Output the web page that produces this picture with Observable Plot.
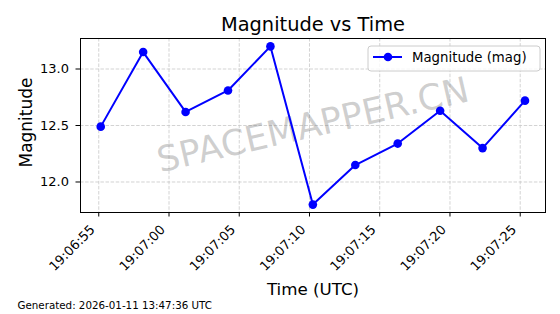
<!DOCTYPE html>
<html>
<head>
<meta charset="utf-8">
<script src="https://cdn.jsdelivr.net/npm/d3@7"></script>
<script src="https://cdn.jsdelivr.net/npm/@observablehq/plot@0.6"></script>
<style>
  html, body { margin: 0; padding: 0; background: #fff; }
</style>
</head>
<body>
<div id="chart"></div>
<script>
// Data
const times = [
  "2026-01-11T19:06:55.14Z", "2026-01-11T19:06:58.16Z", "2026-01-11T19:07:01.18Z",
  "2026-01-11T19:07:04.20Z", "2026-01-11T19:07:07.22Z", "2026-01-11T19:07:10.24Z",
  "2026-01-11T19:07:13.26Z", "2026-01-11T19:07:16.28Z", "2026-01-11T19:07:19.30Z",
  "2026-01-11T19:07:22.32Z", "2026-01-11T19:07:25.34Z"
];
const magnitudes = [12.49, 13.15, 12.62, 12.81, 13.20, 11.80, 12.15, 12.34, 12.63, 12.30, 12.72];
const yTicks = [12.0, 12.5, 13.0];
const xDomain = ["2026-01-11T19:06:53.70Z", "2026-01-11T19:07:26.80Z"];
const yDomain = [11.73, 13.27];
const titleText = "Magnitude vs Time";
const xLabel = "Time (UTC)";
const yLabel = "Magnitude";
const seriesLabel = "Magnitude (mag)";
const watermarkText = "SPACEMAPPER.CN";
const footerText = "Generated: 2026-01-11 13:47:36 UTC";

const data = times.map((t, i) => ({time: new Date(t), mag: magnitudes[i]}));
const xTicks = d3.utcSecond.every(5).range(new Date(xDomain[0]), new Date(xDomain[1]));
const fmtTime = d3.utcFormat("%H:%M:%S");

const font = "DejaVu Sans, sans-serif";
const gridStyle = {stroke: "#c8c8c8", strokeOpacity: 1, strokeWidth: 0.8, strokeDasharray: "3.5,1.6"};
const chart = Plot.plot({
  width: 560,
  height: 314,
  marginLeft: 80,
  marginRight: 15,
  marginTop: 38,
  marginBottom: 102,
  style: {fontFamily: font, fontSize: "13px", color: "black", background: "white"},
  x: {type: "utc", domain: xDomain.map(d => new Date(d))},
  y: {domain: yDomain},
  marks: [
    Plot.gridX(xTicks, gridStyle),
    Plot.gridY(yTicks, gridStyle),
    Plot.text([watermarkText], {frameAnchor: "middle", text: d => d, rotate: -13, fontSize: 35.5, fill: "gray", fillOpacity: 0.38}),
    Plot.line(data, {x: "time", y: "mag", stroke: "#0000ff", strokeWidth: 2}),
    Plot.dot(data, {x: "time", y: "mag", r: 4.3, fill: "#0000ff", stroke: "none"}),
    Plot.frame({stroke: "black", strokeWidth: 1}),
    Plot.axisX(xTicks, {tickFormat: () => "", tickSize: 4.5, label: null, stroke: "black"}),
    Plot.text(xTicks, {x: d => d, frameAnchor: "bottom", text: d => fmtTime(d), rotate: -45, textAnchor: "end", lineAnchor: "middle", dx: -6, dy: 15, fontSize: 13}),
    Plot.axisY(yTicks, {tickFormat: d3.format(".1f"), tickSize: 4.5, tickPadding: 7, fontSize: 13, label: null, stroke: "black"}),
    Plot.text([titleText], {frameAnchor: "top", text: d => d, dy: -8, lineAnchor: "bottom", fontSize: 19.4}),
    Plot.text([xLabel], {frameAnchor: "bottom", text: d => d, dy: 82, lineAnchor: "bottom", fontSize: 16.7}),
    Plot.text([yLabel], {frameAnchor: "left", text: d => d, dx: -49, dy: -3, rotate: -90, textAnchor: "middle", lineAnchor: "bottom", fontSize: 17}),
    Plot.text([footerText], {frameAnchor: "bottom-left", text: d => d, dx: -63, dy: 96, lineAnchor: "bottom", textAnchor: "start", fontSize: 10.3})
  ]
});
document.getElementById("chart").appendChild(chart);

// Legend (upper right, inside the frame)
const svg = d3.select(chart);
const lg = svg.append("g").attr("font-family", font).attr("text-anchor", "start");
lg.append("rect").attr("x", 368).attr("y", 46).attr("width", 172).attr("height", 25)
  .attr("rx", 3).attr("fill", "white").attr("fill-opacity", 0.8).attr("stroke", "#cccccc");
lg.append("line").attr("x1", 373).attr("x2", 402).attr("y1", 57).attr("y2", 57)
  .attr("stroke", "#0000ff").attr("stroke-width", 2);
lg.append("circle").attr("cx", 388).attr("cy", 57).attr("r", 4.3).attr("fill", "#0000ff");
lg.append("text").attr("x", 412).attr("y", 62).attr("font-size", 13.3).attr("fill", "black").text(seriesLabel);
</script>
</body>
</html>
